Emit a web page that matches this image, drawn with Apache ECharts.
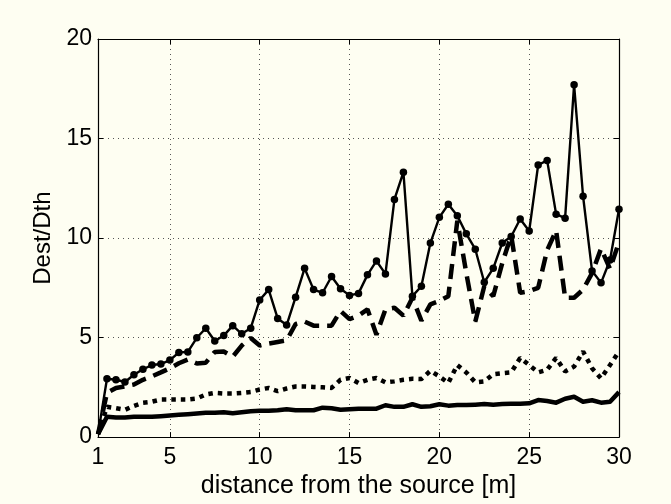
<!DOCTYPE html>
<html>
<head>
<meta charset="utf-8">
<script src="https://cdn.jsdelivr.net/npm/echarts@6/dist/echarts.min.js"></script>
<style>
html,body{margin:0;padding:0;background:#fefef2;}
#chart{width:671px;height:504px;}
</style>
</head>
<body>
<div id="chart"></div>
<script>
const distance = [1,1.5,2,2.5,3,3.5,4,4.5,5,5.5,6,6.5,7,7.5,8,8.5,9,9.5,10,10.5,11,11.5,12,12.5,13,13.5,14,14.5,15,15.5,16,16.5,17,17.5,18,18.5,19,19.5,20,20.5,21,21.5,22,22.5,23,23.5,24,24.5,25,25.5,26,26.5,27,27.5,28,28.5,29,29.5,30];

const seriesMarkers = [0.15,2.93,2.88,2.77,3.13,3.41,3.62,3.67,3.87,4.25,4.28,4.99,5.47,4.83,5.1,5.6,5.19,5.47,6.89,7.41,5.96,5.63,7.03,8.48,7.41,7.25,8.07,7.45,7.12,7.22,8.15,8.85,8.2,11.94,13.31,7.08,7.58,9.75,11.04,11.7,11.12,10.21,9.44,7.78,8.48,9.75,10.08,10.96,10.35,13.67,13.9,11.2,11.0,17.7,12.1,8.35,7.75,8.9,11.45];

const seriesDashed = [0.15,2.22,2.47,2.55,2.64,2.88,3.05,3.25,3.46,3.71,3.9,3.7,3.74,4.28,4.3,4.04,4.6,4.98,4.6,4.7,4.78,4.86,5.68,5.8,5.6,5.6,5.6,6.34,5.93,6.1,6.42,5.14,6.42,6.5,6.1,7.0,5.85,6.67,6.84,7.08,10.87,8.24,5.8,7.58,7.08,8.73,10.13,7.25,7.33,7.5,9.39,10.38,7.0,7.0,7.41,8.24,9.47,8.45,9.8];

const seriesDotted = [0.15,1.52,1.45,1.37,1.57,1.73,1.78,1.89,1.89,1.89,1.89,1.94,2.14,2.22,2.19,2.19,2.22,2.27,2.39,2.47,2.31,2.44,2.54,2.54,2.52,2.5,2.47,2.88,2.97,2.72,2.88,2.97,2.75,2.8,2.88,2.93,2.92,3.33,3.05,2.72,3.62,3.25,2.75,2.8,3.16,3.21,3.25,3.98,3.62,3.25,3.38,3.98,3.3,3.54,4.3,3.46,2.95,3.62,4.3];

const seriesSolid = [0.15,1.02,0.99,0.99,1.02,1.02,1.02,1.05,1.09,1.12,1.15,1.19,1.22,1.22,1.25,1.2,1.25,1.3,1.32,1.32,1.35,1.4,1.35,1.35,1.35,1.48,1.45,1.37,1.4,1.42,1.42,1.43,1.6,1.52,1.52,1.65,1.52,1.55,1.65,1.58,1.61,1.61,1.63,1.66,1.63,1.66,1.68,1.68,1.7,1.86,1.81,1.73,1.93,2.03,1.78,1.85,1.73,1.78,2.26];

const xTicks = [1,5,10,15,20,25,30];
const yTicks = [0,5,10,15,20];

const pairs = vals => distance.map((d,i) => [d, vals[i]]);
const font = 'Liberation Sans, Arial, sans-serif';

const chart = echarts.init(document.getElementById('chart'), null, {renderer:'canvas'});
const gridLine = {show:true, lineStyle:{color:'#555', width:1, type:[1,4]}};
chart.setOption({
  backgroundColor:'#fefef2',
  animation:false,
  grid:{left:98, right:52, top:39, bottom:61, containLabel:false},
  xAxis:[{
    type:'value', min:1, max:30, position:'bottom',
    name:'distance from the source [m]', nameLocation:'middle', nameGap:34,
    nameTextStyle:{fontFamily:font, fontSize:25, color:'#000'},
    axisLine:{show:true, lineStyle:{color:'#000', width:1.2}},
    axisTick:{show:true, inside:true, length:5, lineStyle:{color:'#000'}, customValues:xTicks},
    axisLabel:{show:true, customValues:xTicks, fontFamily:font, fontSize:23, color:'#000', margin:9},
    splitLine:gridLine
  },{
    type:'value', min:1, max:30, position:'top',
    axisLine:{show:true, onZero:false, lineStyle:{color:'#000', width:1.2}},
    axisTick:{show:true, inside:true, length:5, lineStyle:{color:'#000'}, customValues:xTicks},
    axisLabel:{show:false}, splitLine:{show:false}
  }],
  yAxis:[{
    type:'value', min:0, max:20, interval:5, position:'left',
    name:'Dest/Dth', nameLocation:'middle', nameGap:42,
    nameTextStyle:{fontFamily:font, fontSize:24, color:'#000'},
    axisLine:{show:true, lineStyle:{color:'#000', width:1.2}},
    axisTick:{show:true, inside:true, length:5, lineStyle:{color:'#000'}},
    axisLabel:{show:true, fontFamily:font, fontSize:23, color:'#000', margin:6},
    splitLine:gridLine
  },{
    type:'value', min:0, max:20, interval:5, position:'right',
    axisLine:{show:true, onZero:false, lineStyle:{color:'#000', width:1.2}},
    axisTick:{show:true, inside:true, length:5, lineStyle:{color:'#000'}},
    axisLabel:{show:false}, splitLine:{show:false}
  }],
  series:[
    {type:'line', data:pairs(seriesSolid), symbol:'none', z:3,
     lineStyle:{color:'#000', width:4.5, join:'round'}},
    {type:'line', data:pairs(seriesDotted), symbol:'none', z:3,
     lineStyle:{color:'#000', width:4.5, type:[4.5,5], cap:'butt'}},
    {type:'line', data:pairs(seriesDashed), symbol:'none', z:3,
     lineStyle:{color:'#000', width:4.5, type:[15,8], cap:'butt'}},
    {type:'line', data:pairs(seriesMarkers).map((p,i)=> i===0 ? {value:p, symbol:'none'} : {value:p}),
     symbol:'circle', symbolSize:7.5, z:4,
     itemStyle:{color:'#000'},
     lineStyle:{color:'#000', width:2.4}}
  ]
});
</script>
</body>
</html>
